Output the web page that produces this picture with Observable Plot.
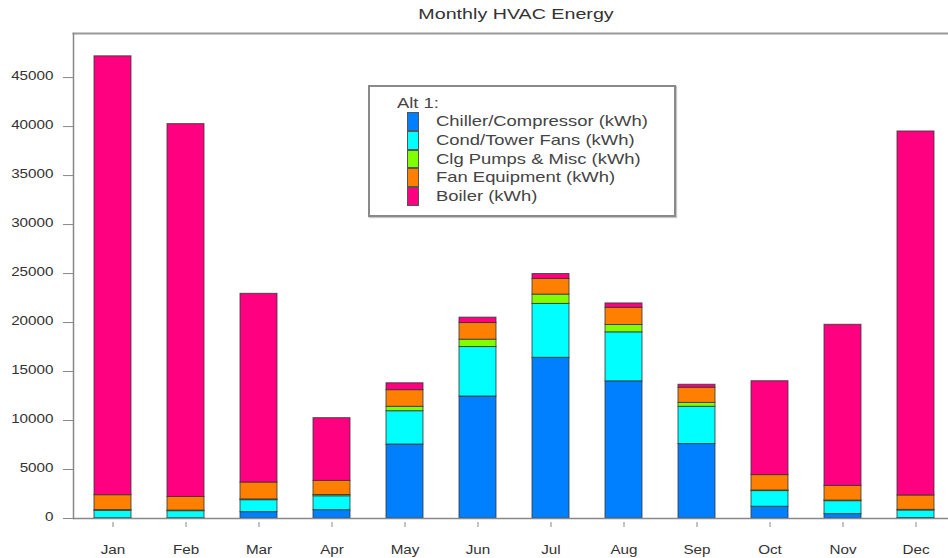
<!DOCTYPE html>
<html><head><meta charset="utf-8">
<script src="https://cdn.jsdelivr.net/npm/d3@7"></script>
<script src="https://cdn.jsdelivr.net/npm/@observablehq/plot@0.6"></script>
<style>
body{margin:0;background:#fff;font-family:"Liberation Sans",Arial,sans-serif;}
#wrap{position:relative;width:948px;height:558px;overflow:hidden;}
#legend{position:absolute;left:368px;top:85px;width:308px;height:132px;box-sizing:border-box;border:2px solid #8a8a8a;background:#fff;box-shadow:1px 1px 1px #c8c8c8;font-size:14.5px;color:#444;}
.lt{position:absolute;white-space:nowrap;transform:scaleX(1.27);transform-origin:0 50%;line-height:19px;height:19px;}
.sw{position:absolute;width:12px;box-sizing:border-box;border:1px solid #555;}
</style></head>
<body><div id="wrap"></div>
<script>
const months = ["Jan","Feb","Mar","Apr","May","Jun","Jul","Aug","Sep","Oct","Nov","Dec"];
const seriesNames = ["Chiller/Compressor (kWh)","Cond/Tower Fans (kWh)","Clg Pumps & Misc (kWh)","Fan Equipment (kWh)","Boiler (kWh)"];
const chiller = [30, 30, 650, 850, 7550, 12450, 16400, 14000, 7600, 1200, 450, 50];
const condFans = [750, 720, 1220, 1420, 3400, 5050, 5500, 5000, 3800, 1600, 1320, 770];
const clgPumps = [80, 60, 80, 130, 450, 750, 950, 750, 400, 60, 60, 60];
const fanEquip = [1520, 1390, 1720, 1440, 1700, 1700, 1600, 1750, 1550, 1570, 1500, 1470];
const boiler = [44790, 38050, 19260, 6400, 700, 550, 500, 450, 300, 9580, 16440, 37150];
const colors = ["#0080ff","#00ffff","#80ff00","#ff8000","#ff0080"];
const yTicks = [0,5000,10000,15000,20000,25000,30000,35000,40000,45000];
const titleText = "Monthly HVAC Energy";
const legendTitle = "Alt 1:";

const values = [chiller, condFans, clgPumps, fanEquip, boiler];
const data = seriesNames.flatMap((s, i) => months.map((m, j) => ({month: m, series: s, value: values[i][j]})));
const SX = 1.27;

const chart = Plot.plot({
  width: 948, height: 558,
  marginTop: 33, marginBottom: 40, marginLeft: 73, marginRight: 0,
  style: {fontFamily: "Liberation Sans, Arial, sans-serif", fontSize: "12px", color: "#333", background: "#fff"},
  x: {domain: months, range: [73, 955], paddingInner: 0.5, paddingOuter: 0.25, axis: null},
  y: {domain: [0, 49500], axis: null},
  color: {domain: seriesNames, range: colors},
  marks: [
    Plot.frame({anchor: "top", stroke: "#999", strokeWidth: 2}),
    Plot.frame({anchor: "left", stroke: "#888", strokeWidth: 1.5}),
    Plot.axisY({ticks: yTicks, tickSize: 10, tickFormat: () => "", stroke: "#888", label: null}),
    Plot.axisY({ticks: yTicks, tickSize: 0, tickPadding: 20, dy: 2, tickFormat: d => String(d), fill: "#333", label: null}),
    Plot.axisX({tickSize: 0, tickPadding: 35, fill: "#333", label: null}),
    Plot.axisX({tickSize: 5, dy: 4, tickFormat: () => "", stroke: "#888", label: null}),
    Plot.barY(data, {x: "month", y: "value", fill: "series", stroke: "#333", strokeWidth: 1, strokeOpacity: 0.8}),
    Plot.ruleY([0], {stroke: "#888", strokeWidth: 1.5}),
    Plot.text([titleText], {text: d => d, frameAnchor: "top", lineAnchor: "middle", dy: -15, dx: 5, fontSize: 15.5, fill: "#333"})
  ]
});

chart.querySelectorAll("text").forEach(t => {
  const x = t.getAttribute("x"), y = t.getAttribute("y");
  let tr = t.getAttribute("transform") || "";
  if (x != null || y != null) {
    tr += ` translate(${+x || 0},${+y || 0})`;
    t.removeAttribute("x"); t.removeAttribute("y");
  }
  t.setAttribute("transform", (tr + ` scale(${SX},1)`).trim());
});

const wrap = document.getElementById("wrap");
wrap.append(chart);

const legend = document.createElement("div");
legend.id = "legend";
const lt = document.createElement("div");
lt.className = "lt"; lt.textContent = legendTitle;
lt.style.left = "27px"; lt.style.top = "7px";
legend.append(lt);
const rowH = 18.8;
seriesNames.forEach((s, i) => {
  const sw = document.createElement("div");
  sw.className = "sw";
  sw.style.left = "37px";
  sw.style.top = (25 + i * rowH) + "px";
  sw.style.height = rowH + "px";
  sw.style.background = colors[i];
  legend.append(sw);
  const t = document.createElement("div");
  t.className = "lt"; t.textContent = s;
  t.style.left = "66px";
  t.style.top = (25 + i * rowH) + "px";
  legend.append(t);
});
wrap.append(legend);
</script>
</body></html>
